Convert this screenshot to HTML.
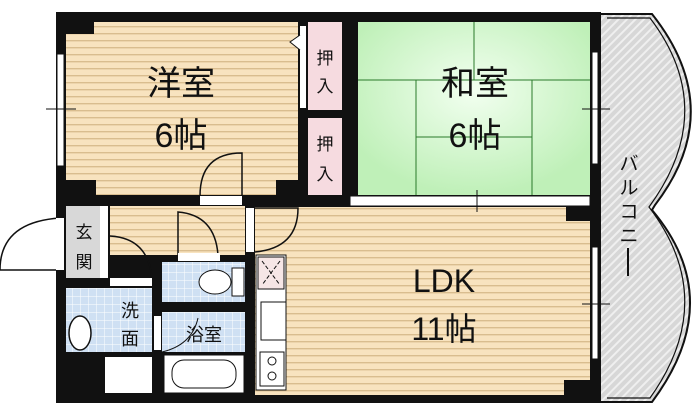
<!DOCTYPE html>
<html><head><meta charset="utf-8"><style>
body{margin:0;background:#fff;}
svg text{font-family:"Liberation Sans","Noto Sans CJK JP",sans-serif;fill:#111;}
</style></head><body>
<svg width="700" height="415" viewBox="0 0 700 415" xmlns="http://www.w3.org/2000/svg">
<defs>
<pattern id="wood" width="10" height="7" patternUnits="userSpaceOnUse"><rect width="10" height="7" fill="#f8e3bf"/><rect y="5" width="10" height="1.4" fill="#d9bd8f"/></pattern>
<pattern id="tile" width="8" height="8" patternUnits="userSpaceOnUse"><rect width="8" height="8" fill="#cfe0f3"/><path d="M0 0H8M0 0V8" stroke="#fff" stroke-width="1"/></pattern>
<pattern id="hatch" width="6" height="6" patternUnits="userSpaceOnUse" patternTransform="rotate(45)"><rect width="6" height="6" fill="#d7d7d7"/><rect width="2" height="6" fill="#efefef"/></pattern>
<radialGradient id="grn" cx="50%" cy="40%" r="60%"><stop offset="0" stop-color="#f2fff0"/><stop offset="1" stop-color="#bff0b8"/></radialGradient>
</defs>
<!-- balcony -->
<path d="M600 14 L652 14 Q728 110 655 205 L652 210 Q728 300 652 402 L600 402 Z" fill="url(#hatch)" stroke="#111" stroke-width="2"/>
<path d="M607 18 L650 18 Q720 110 649 207 Q720 300 650 398 L607 398" fill="none" stroke="#111" stroke-width="1.2"/>
<!-- outer black -->
<rect x="56" y="12" width="545" height="391" fill="#111"/>
<!-- rooms -->
<rect x="66" y="22" width="232" height="173" fill="url(#wood)"/>
<rect x="308" y="22" width="34" height="88" fill="#f6dbe0"/>
<rect x="308" y="118" width="34" height="77" fill="#f6dbe0"/>
<rect x="358" y="22" width="232" height="173" fill="url(#grn)"/>
<g stroke="#2a7a2a" stroke-width="1" fill="none">
<path d="M474 22V80M358 80H590M416 80V195M532 80V195M416 137H532"/>
</g>
<rect x="350" y="196" width="240" height="10" fill="#fff" stroke="#111" stroke-width="1"/>
<rect x="255" y="207" width="335" height="188" fill="url(#wood)"/>
<rect x="110" y="206" width="135" height="49" fill="url(#wood)"/>
<rect x="66" y="206" width="34" height="72" fill="#d8d8d8"/>
<rect x="66" y="288" width="86" height="64" fill="url(#tile)"/>
<rect x="162" y="262" width="83" height="40" fill="url(#tile)"/>
<rect x="162" y="312" width="83" height="40" fill="url(#tile)"/>
<rect x="164" y="355" width="80" height="38" fill="#fff" stroke="#111"/>
<rect x="172" y="360" width="64" height="28" rx="12" fill="#fff" stroke="#111"/>
<rect x="105" y="357" width="47" height="36" fill="#fff"/>
<rect x="256" y="255" width="30" height="135" fill="#fff" stroke="#111"/>
<rect x="258" y="257" width="26" height="32" fill="#f6e6e6" stroke="#111"/>
<path d="M262 261L280 285M280 261L262 285" stroke="#111" stroke-dasharray="4 2"/>
<rect x="261" y="302" width="25" height="38" fill="#fff" stroke="#111"/>
<rect x="260" y="352" width="24" height="34" fill="#fff" stroke="#111"/>
<circle cx="272" cy="361" r="4" fill="none" stroke="#111"/><circle cx="272" cy="376" r="4" fill="none" stroke="#111"/>
<ellipse cx="80" cy="333" rx="11" ry="17" fill="#fff" stroke="#111" stroke-width="1.5"/>
<ellipse cx="215" cy="282" rx="16" ry="12" fill="#fff" stroke="#111"/><rect x="232" y="268" width="12" height="28" fill="#fff" stroke="#111"/>
<!-- black corners -->
<rect x="66" y="22" width="28" height="12" fill="#111"/><rect x="66" y="180" width="30" height="15" fill="#111"/>
<rect x="276" y="180" width="22" height="15" fill="#111"/><rect x="566" y="207" width="24" height="14" fill="#111"/><rect x="564" y="380" width="26" height="15" fill="#111"/>
<!-- windows -->
<rect x="57" y="54" width="7" height="112" fill="#fff" stroke="#111"/><path d="M46 109H76" stroke="#111"/>
<rect x="592" y="52" width="6" height="112" fill="#fff" stroke="#111"/><path d="M582 109H610" stroke="#111"/>
<rect x="592" y="247" width="6" height="112" fill="#fff" stroke="#111"/><path d="M582 304H610" stroke="#111"/>
<path d="M477 190V212" stroke="#111"/>
<rect x="300" y="26" width="6" height="82" fill="#fff"/><path d="M300 35L290 42L300 50" fill="#fff" stroke="#111"/>
<!-- doors -->
<rect x="200" y="196" width="42" height="9" fill="#fff"/><path d="M200 196Q200 153 242 153V196" fill="none" stroke="#111" stroke-width="1.5"/>
<rect x="246" y="208" width="8" height="44" fill="#fff"/><path d="M255 208H298Q298 248 255 252" fill="none" stroke="#111" stroke-width="1.5"/>
<rect x="100" y="206" width="8" height="72" fill="#fff"/>
<path d="M60 270H0Q0 222 60 218" fill="none" stroke="#111" stroke-width="1.5"/><rect x="56" y="218" width="8" height="52" fill="#fff"/>
<path d="M110 236Q148 238 152 278" fill="none" stroke="#111" stroke-width="1.5"/><rect x="110" y="278" width="42" height="8" fill="#fff"/>
<path d="M178 212Q215 215 218 255H178Z" fill="none" stroke="#111" stroke-width="1.5"/><rect x="178" y="253" width="42" height="8" fill="#fff"/>
<rect x="154" y="316" width="7" height="34" fill="#fff"/><path d="M162 352Q192 345 198 318" fill="none" stroke="#111"/>
<!-- labels -->
<text x="181" y="95" font-size="34" text-anchor="middle">洋室</text>
<text x="181" y="147" font-size="34" text-anchor="middle">6帖</text>
<text x="475" y="95" font-size="34" text-anchor="middle">和室</text>
<text x="475" y="147" font-size="34" text-anchor="middle">6帖</text>
<text x="444" y="292" font-size="32" text-anchor="middle">LDK</text>
<text x="444" y="340" font-size="32" text-anchor="middle">11帖</text>
<text x="325" y="64" font-size="17" text-anchor="middle">押</text><text x="325" y="92" font-size="17" text-anchor="middle">入</text>
<text x="325" y="150" font-size="17" text-anchor="middle">押</text><text x="325" y="180" font-size="17" text-anchor="middle">入</text>
<text x="84" y="238" font-size="17" text-anchor="middle">玄</text><text x="84" y="268" font-size="17" text-anchor="middle">関</text>
<text x="130" y="317" font-size="18" text-anchor="middle">洗</text><text x="130" y="345" font-size="18" text-anchor="middle">面</text>
<text x="204" y="341" font-size="18" text-anchor="middle">浴室</text>
<g font-size="19"><text x="629" y="170" text-anchor="middle">バ</text><text x="629" y="194" text-anchor="middle">ル</text><text x="629" y="218" text-anchor="middle">コ</text><text x="629" y="242" text-anchor="middle">ニ</text></g>
<path d="M628 248V276" stroke="#111" stroke-width="2"/>
</svg>
</body></html>
